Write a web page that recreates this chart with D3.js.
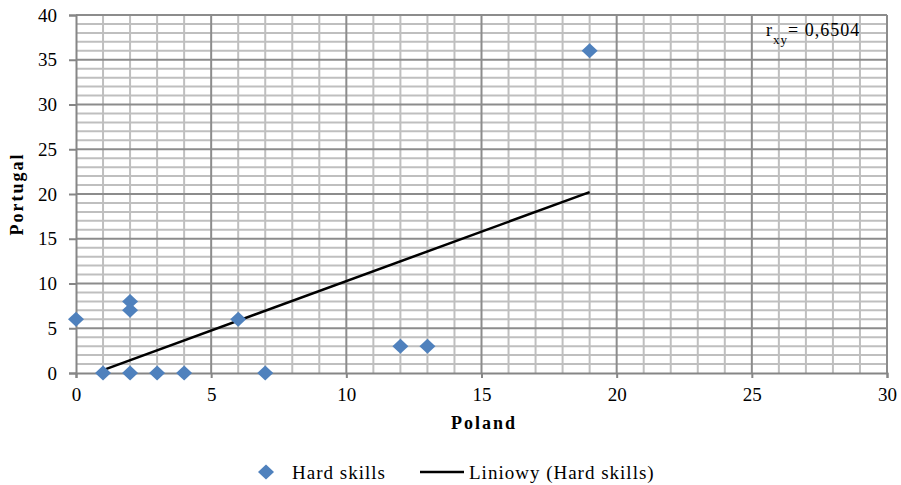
<!DOCTYPE html>
<html><head><meta charset="utf-8">
<script src="https://cdn.jsdelivr.net/npm/d3@7"></script>
</head><body style="margin:0;background:#fff">
<svg id="c" width="901" height="485" font-family="Liberation Serif" style="display:block"></svg>
<script>
const polandValues = [0, 1, 2, 2, 2, 3, 4, 6, 7, 12, 13, 19];
const portugalValues = [6, 0, 8, 7, 0, 0, 0, 6, 0, 3, 3, 36];
const xTicks = [0, 5, 10, 15, 20, 25, 30];
const yTicks = [0, 5, 10, 15, 20, 25, 30, 35, 40];
const seriesName = "Hard skills";
const trendName = "Liniowy (Hard skills)";
const rLabel = "0,6504";

const FONT = "Liberation Serif";
const svg = d3.select("#c");
const x = d3.scaleLinear().domain([0, 30]).range([76, 887]);
const y = d3.scaleLinear().domain([0, 40]).range([373, 15]);

const g = svg.append("g");
const minorX = d3.range(0, 31, 1).filter(v => v % 5 !== 0);
const minorY = d3.range(0, 41, 1).filter(v => v % 5 !== 0);
g.selectAll(".mx").data(minorX).join("line")
  .attr("x1", d => x(d)).attr("x2", d => x(d)).attr("y1", y(0)).attr("y2", y(40))
  .attr("stroke", "#bfbfbf").attr("stroke-width", 2);
g.selectAll(".my").data(minorY).join("line")
  .attr("y1", d => y(d)).attr("y2", d => y(d)).attr("x1", x(0)).attr("x2", x(30))
  .attr("stroke", "#bfbfbf").attr("stroke-width", 2);
g.selectAll(".Mx").data(xTicks.slice(1)).join("line")
  .attr("x1", d => x(d)).attr("x2", d => x(d)).attr("y1", y(0)).attr("y2", y(40))
  .attr("stroke", "#8c8c8c").attr("stroke-width", 2);
g.selectAll(".My").data(yTicks.slice(1)).join("line")
  .attr("y1", d => y(d)).attr("y2", d => y(d)).attr("x1", x(0)).attr("x2", x(30))
  .attr("stroke", "#8c8c8c").attr("stroke-width", 2);

const xAxis = d3.axisBottom(x).tickValues(xTicks).tickSize(5).tickPadding(10).tickFormat(d3.format("d"));
const yAxis = d3.axisLeft(y).tickValues(yTicks).tickSize(7).tickPadding(12).tickFormat(d3.format("d"));
const xa = svg.append("g").attr("transform", `translate(0,${y(0)})`).call(xAxis);
const ya = svg.append("g").attr("transform", `translate(${x(0)},0)`).call(yAxis);
[xa, ya].forEach(a => {
  a.attr("font-family", FONT).attr("font-size", 19);
  a.select(".domain").attr("stroke", "#868686").attr("stroke-width", 2);
  a.selectAll(".tick line").attr("stroke", "#868686").attr("stroke-width", 2);
  a.selectAll(".tick text").attr("font-family", FONT).attr("font-size", 19).attr("fill", "#000");
});

const mx = d3.mean(polandValues), my = d3.mean(portugalValues);
let sxy = 0, sxx = 0;
polandValues.forEach((v, i) => { sxy += (v - mx) * (portugalValues[i] - my); sxx += (v - mx) ** 2; });
const slope = sxy / sxx, icpt = my - slope * mx;
const [xmin, xmax] = d3.extent(polandValues.filter(v => v > 0));
svg.append("line")
  .attr("x1", x(xmin)).attr("y1", y(slope * xmin + icpt))
  .attr("x2", x(xmax)).attr("y2", y(slope * xmax + icpt))
  .attr("stroke", "#000").attr("stroke-width", 2.5);

const diamond = (cx, cy) => `M${cx},${cy - 7.5}L${cx + 8},${cy}L${cx},${cy + 7.5}L${cx - 8},${cy}Z`;
svg.selectAll(".pt").data(polandValues.map((v, i) => [v, portugalValues[i]])).join("path")
  .attr("d", d => diamond(x(d[0]), y(d[1]))).attr("fill", "#4f81bd");

const rt = svg.append("text").attr("x", 766).attr("y", 36).attr("font-family", FONT).attr("font-size", 18).attr("letter-spacing", 1);
rt.append("tspan").text("r");
rt.append("tspan").attr("dy", 8).attr("font-size", 13).text("xy");
rt.append("tspan").attr("dy", -8).text("= " + rLabel);

svg.append("text").attr("x", 484).attr("y", 429).attr("text-anchor", "middle").attr("font-family", FONT)
  .attr("font-size", 18).attr("letter-spacing", 2).attr("font-weight", "bold").text("Poland");
svg.append("text").attr("transform", "translate(23,194) rotate(-90)").attr("text-anchor", "middle").attr("font-family", FONT)
  .attr("font-size", 18).attr("letter-spacing", 2).attr("font-weight", "bold").text("Portugal");

svg.append("path").attr("d", diamond(266, 472)).attr("fill", "#4f81bd");
svg.append("text").attr("x", 292).attr("y", 479).attr("font-family", FONT).attr("font-size", 19).attr("letter-spacing", 1).text(seriesName);
svg.append("line").attr("x1", 420).attr("x2", 464).attr("y1", 472).attr("y2", 472).attr("stroke", "#000").attr("stroke-width", 2.5);
svg.append("text").attr("x", 469).attr("y", 479).attr("font-family", FONT).attr("font-size", 19).attr("letter-spacing", 1).text(trendName);
</script>
</body></html>
